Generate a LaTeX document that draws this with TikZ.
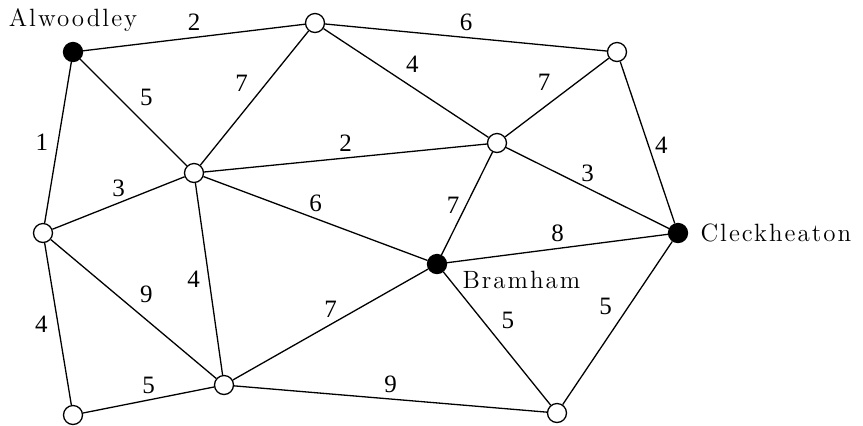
\documentclass[tikz,border=0pt]{standalone}
\usepackage{fontspec}
\setmainfont{Liberation Serif}
\newfontfamily\placefont[LetterSpace=8]{Latin Modern Roman}
\usepackage{tikz}
\usetikzlibrary{positioning}
\tikzstyle{town} = [circle, draw, fill=white, line width=0.65pt, minimum size=9.5pt, inner sep=0pt]
\tikzstyle{towndot} = [town, fill=black]
\tikzstyle{place} = [font=\placefont\fontsize{12.5}{15}\selectfont, inner sep=0pt]
\tikzstyle{line} = [draw, line width=0.65pt]
\tikzstyle{wt} = [font=\fontsize{12.5}{15}\selectfont, inner sep=3pt]

\begin{document}
\begin{tikzpicture}[x=0.5pt, y=-0.5pt]
	\useasboundingbox (0,0) rectangle (863,425);
	
	% Place nodes
	\node [towndot] (Alwoodley)   at (73,52)   {};
	\node [town]    (North)       at (315,23)  {};
	\node [town]    (North East)  at (617,52)  {};
	\node [town]    (Centre)      at (194,173) {};
	\node [town]    (East)        at (497,143) {};
	\node [town]    (West)        at (43,233)  {};
	\node [towndot] (Bramham)     at (437,264) {};
	\node [towndot] (Cleckheaton) at (678,233) {};
	\node [town]    (South West)  at (73,415)  {};
	\node [town]    (South)       at (224,385) {};
	\node [town]    (South East)  at (557,413) {};
	
	\node [place, above=5pt of Alwoodley]             (Alwoodley label)   {Alwoodley};
	\node [place, right=6pt of Cleckheaton]           (Cleckheaton label) {Cleckheaton};
	\node [place, below right=0pt and 9pt of Bramham] (Bramham label)     {Bramham};
	
	%Draw edges
	\path [line] (Alwoodley)  -- node [wt, above]             {2} (North);
	\path [line] (North)      -- node [wt, above]             {6} (North East);
	\path [line] (Alwoodley)  -- node [wt, left=1.6pt]        {1} (West);
	\path [line] (Alwoodley)  -- node [wt, above right]       {5} (Centre);
	\path [line] (North)      -- node [wt, above left]        {7} (Centre);
	\path [line] (North)      -- node [wt, pos=0.46, above right] {4} (East);
	\path [line] (North East) -- node [wt, above left]        {7} (East);
	\path [line] (North East) -- node [wt, pos=0.52, right]   {4} (Cleckheaton);
	\path [line] (Centre)     -- node [wt, above]             {2} (East);
	\path [line] (East)       -- node [wt, above]             {3} (Cleckheaton);
	\path [line] (East)       -- node [wt, pos=0.52, left]    {7} (Bramham);
	\path [line] (Bramham)    -- node [wt, above]             {8} (Cleckheaton);
	\path [line] (Centre)     -- node [wt, above]             {3} (West);
	\path [line] (Centre)     -- node [wt, above]             {6} (Bramham);
	\path [line] (Centre)     -- node [wt, left=1.3pt]        {4} (South);
	\path [line] (West)       -- node [wt, above right]       {9} (South);
	\path [line] (West)       -- node [wt, left=1.8pt]        {4} (South West);
	\path [line] (South West) -- node [wt, above]             {5} (South);
	\path [line] (South)      -- node [wt, above]             {7} (Bramham);
	\path [line] (South)      -- node [wt, above]             {9} (South East);
	\path [line] (Bramham)    -- node [wt, pos=0.48, above right] {5} (South East);
	\path [line] (Cleckheaton) -- node [wt, pos=0.49, above left] {5} (South East);
	
\end{tikzpicture}
\end{document}
